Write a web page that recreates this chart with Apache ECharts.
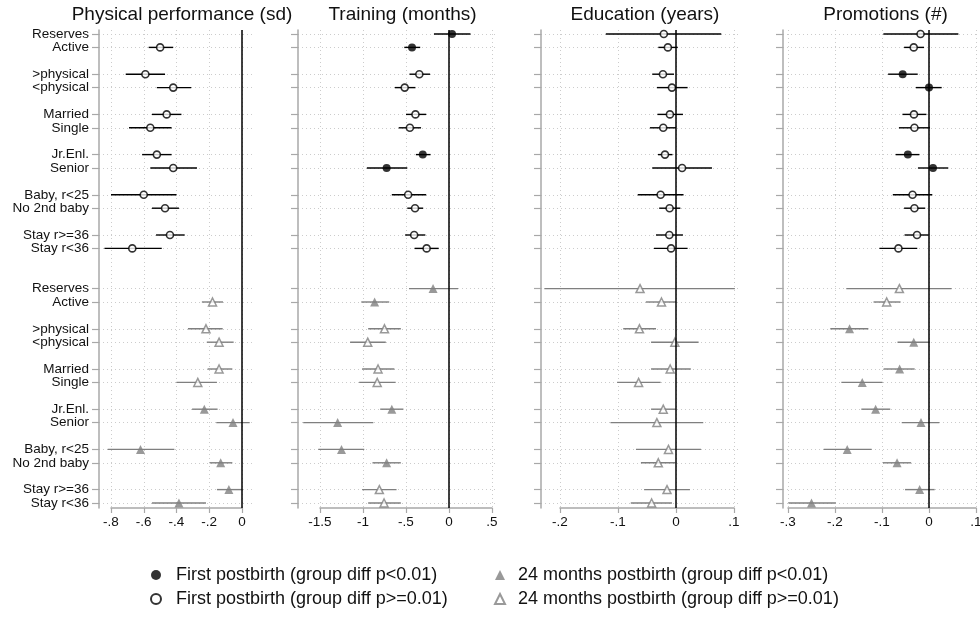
<!DOCTYPE html>
<html>
<head>
<meta charset="utf-8">
<script src="https://cdn.jsdelivr.net/npm/echarts@6/dist/echarts.min.js"></script>
<style>
html, body { margin: 0; padding: 0; background: #fff; }
#chart { width: 980px; height: 618px; }
</style>
</head>
<body>
<div id="chart"></div>
<script>
// Row labels (same six pairs in both blocks)
const rowLabels = ['Reserves', 'Active', '>physical', '<physical', 'Married', 'Single',
    'Jr.Enl.', 'Senior', 'Baby, r<25', 'No 2nd baby', 'Stay r>=36', 'Stay r<36'];

const panelTitles = ['Physical performance (sd)', 'Training (months)', 'Education (years)', 'Promotions (#)'];

const legendNames = [
    'First postbirth (group diff p<0.01)',
    'First postbirth (group diff p>=0.01)',
    '24 months postbirth (group diff p<0.01)',
    '24 months postbirth (group diff p>=0.01)'
];

// 24 rows each: first 12 = first postbirth, last 12 = 24 months postbirth
const physEst = [null, -0.50, -0.59, -0.42, -0.46, -0.56, -0.52, -0.42, -0.60, -0.47, -0.44, -0.67,
    null, -0.18, -0.22, -0.14, -0.14, -0.27, -0.23, -0.055, -0.62, -0.13, -0.08, -0.385];
const physLo = [null, -0.57, -0.71, -0.52, -0.55, -0.69, -0.61, -0.56, -0.80, -0.55, -0.525, -0.84,
    null, -0.245, -0.33, -0.215, -0.21, -0.40, -0.305, -0.157, -0.82, -0.197, -0.153, -0.55];
const physHi = [null, -0.42, -0.47, -0.31, -0.37, -0.43, -0.43, -0.275, -0.40, -0.385, -0.35, -0.49,
    null, -0.116, -0.118, -0.051, -0.059, -0.153, -0.149, 0.047, -0.413, -0.059, 0.004, -0.22];
const physSig = [0, 0, 0, 0, 0, 0, 0, 0, 0, 0, 0, 0,
    0, 0, 0, 0, 0, 0, 1, 1, 1, 1, 1, 1];
const physTicks = [-0.8, -0.6, -0.4, -0.2, 0];

const trainEst = [0.035, -0.43, -0.345, -0.515, -0.39, -0.455, -0.305, -0.725, -0.475, -0.395, -0.405, -0.26,
    -0.185, -0.865, -0.75, -0.945, -0.825, -0.835, -0.665, -1.295, -1.25, -0.725, -0.81, -0.755];
const trainLo = [-0.175, -0.52, -0.46, -0.63, -0.50, -0.585, -0.385, -0.955, -0.665, -0.485, -0.51, -0.40,
    -0.465, -1.02, -0.94, -1.15, -1.01, -1.045, -0.80, -1.695, -1.52, -0.89, -1.01, -0.94];
const trainHi = [0.25, -0.335, -0.22, -0.39, -0.265, -0.325, -0.215, -0.485, -0.265, -0.30, -0.275, -0.12,
    0.105, -0.695, -0.56, -0.735, -0.635, -0.62, -0.53, -0.88, -0.985, -0.56, -0.61, -0.56];
const trainSig = [1, 1, 0, 0, 0, 0, 1, 1, 0, 0, 0, 0,
    1, 1, 0, 0, 0, 0, 1, 1, 1, 1, 0, 0];
const trainTicks = [-1.5, -1, -0.5, 0, 0.5];

const eduEst = [-0.021, -0.014, -0.0225, -0.007, -0.0105, -0.022, -0.019, 0.0105, -0.0265, -0.011, -0.0115, -0.0085,
    -0.062, -0.025, -0.063, -0.002, -0.01, -0.0645, -0.022, -0.033, -0.013, -0.0305, -0.0155, -0.042];
const eduLo = [-0.121, -0.0305, -0.041, -0.033, -0.032, -0.045, -0.031, -0.041, -0.066, -0.029, -0.0345, -0.038,
    -0.227, -0.052, -0.091, -0.043, -0.043, -0.1015, -0.043, -0.113, -0.069, -0.0605, -0.055, -0.078];
const eduHi = [0.078, 0.003, -0.0035, 0.020, 0.012, 0, -0.006, 0.062, 0.013, 0.0075, 0.012, 0.020,
    0.1015, 0, -0.0345, 0.039, 0.0255, -0.0265, -0.0005, 0.047, 0.043, -0.001, 0.024, -0.007];
const eduSig = [0, 0, 0, 0, 0, 0, 0, 0, 0, 0, 0, 0,
    0, 0, 0, 0, 0, 0, 0, 0, 0, 0, 0, 0];
const eduTicks = [-0.2, -0.1, 0, 0.1];

const promEst = [-0.018, -0.0325, -0.056, 0, -0.032, -0.031, -0.045, 0.0085, -0.035, -0.031, -0.0255, -0.065,
    -0.063, -0.09, -0.169, -0.0325, -0.0625, -0.142, -0.1135, -0.017, -0.174, -0.068, -0.02, -0.25];
const promLo = [-0.097, -0.053, -0.087, -0.028, -0.0565, -0.064, -0.071, -0.0235, -0.077, -0.053, -0.052, -0.1055,
    -0.176, -0.118, -0.21, -0.067, -0.0965, -0.1865, -0.144, -0.058, -0.224, -0.098, -0.051, -0.299];
const promHi = [0.0625, -0.0105, -0.024, 0.027, -0.0055, 0.002, -0.0205, 0.041, 0.007, -0.008, -0.0005, -0.025,
    0.048, -0.0605, -0.129, 0.0015, -0.0305, -0.099, -0.0825, 0.022, -0.122, -0.038, 0.012, -0.1985];
const promSig = [0, 0, 1, 1, 0, 0, 1, 1, 0, 0, 0, 0,
    0, 0, 1, 1, 1, 1, 1, 1, 1, 1, 1, 1];
const promTicks = [-0.3, -0.2, -0.1, 0, 0.1];

// Styling / layout
const FONT = '"Liberation Sans", Arial, sans-serif';
const GRAY = '#7f7f7f';
const AXIS_GRAY = '#a8a8a8';
const GRID_DOT = '#cccccc';
const PLOT_TOP = 34, PLOT_BOTTOM = 503;   // first / last row
const AXIS_TOP = 30, AXIS_BOTTOM = 508;   // spine extent

// pixel columns: spine, first tick, last tick, right edge
const LAYOUT = [
    { spine: 99, x0: 111, x1: 242, right: 255 },
    { spine: 298, x0: 320, x1: 492, right: 497 },
    { spine: 541, x0: 560, x1: 734, right: 739 },
    { spine: 783, x0: 788, x1: 976, right: 978 }
];

const PANELS = [
    { est: physEst, lo: physLo, hi: physHi, sig: physSig, ticks: physTicks },
    { est: trainEst, lo: trainLo, hi: trainHi, sig: trainSig, ticks: trainTicks },
    { est: eduEst, lo: eduLo, hi: eduHi, sig: eduSig, ticks: eduTicks },
    { est: promEst, lo: promLo, hi: promHi, sig: promSig, ticks: promTicks }
];

// category rows with blank spacers between pairs and blocks
const cats = [];
const rowPos = [];
[0, 1].forEach(g => {
    rowLabels.forEach((lab, i) => {
        if (i > 0 && i % 2 === 0) cats.push('');
        rowPos.push(cats.length);
        cats.push(lab);
    });
    if (g === 0) cats.push('', '');
});

function fmtTick(v) {
    const s = String(Number(v.toFixed(3)));
    return s.replace(/^(-?)0\./, '$1.');
}

const isRow = (idx, val) => val !== '';

const grids = [], xAxes = [], yAxes = [], series = [], titles = [];

PANELS.forEach((p, k) => {
    const L = LAYOUT[k];
    const tMin = p.ticks[0], tMax = p.ticks[p.ticks.length - 1];
    const step = Number((p.ticks[1] - p.ticks[0]).toFixed(4));
    const scale = (L.x1 - L.x0) / (tMax - tMin);
    const bMin = tMin - (L.x0 - L.spine) / scale;
    const bMax = tMax + (L.right - L.x1) / scale;
    const a = 2 * k, b = 2 * k + 1;

    // grid A: tick axis, vertical gridlines, spine, zero line
    grids.push({ left: L.x0, width: L.x1 - L.x0, top: AXIS_TOP, height: AXIS_BOTTOM - AXIS_TOP, outerBoundsMode: 'none' });
    xAxes.push({
        gridIndex: a, type: 'value', min: tMin, max: tMax, interval: step,
        axisLine: { onZero: false, lineStyle: { color: AXIS_GRAY, width: 1.5 } },
        axisTick: { length: 5, lineStyle: { color: AXIS_GRAY, width: 1.2 } },
        axisLabel: { color: '#111', fontSize: 13.5, fontFamily: FONT, margin: 7, formatter: fmtTick,
            showMinLabel: true, showMaxLabel: true },
        splitLine: { show: true, lineStyle: { color: GRID_DOT, type: [1, 3], width: 1 } }
    });
    yAxes.push({
        gridIndex: a, type: 'value', min: 0, max: 1, offset: L.x0 - L.spine,
        axisLine: { show: true, onZero: false, lineStyle: { color: AXIS_GRAY, width: 1.5 } },
        axisTick: { show: false }, axisLabel: { show: false }, splitLine: { show: false }
    });

    // grid B: the rows
    grids.push({ left: L.spine, width: L.right - L.spine, top: PLOT_TOP, height: PLOT_BOTTOM - PLOT_TOP, outerBoundsMode: 'none' });
    xAxes.push({ gridIndex: b, type: 'value', min: bMin, max: bMax, show: false });
    yAxes.push({
        gridIndex: b, type: 'category', data: cats, inverse: true, boundaryGap: false,
        axisLine: { show: false, onZero: false },
        axisTick: { show: true, length: 7, interval: isRow, lineStyle: { color: AXIS_GRAY, width: 1.2 } },
        // interval 0: every category gets its label (spacers are blank), no min/max overlap pruning
        axisLabel: { show: k === 0, interval: 0, color: '#111', fontSize: 13.5,
            fontFamily: FONT, margin: 10 },
        splitLine: { show: true, interval: isRow, lineStyle: { color: GRID_DOT, type: [1, 3], width: 1 } }
    });

    titles.push({
        text: panelTitles[k], left: (L.spine + L.right) / 2, top: 0, textAlign: 'center',
        textStyle: { fontSize: 19, fontWeight: 'normal', color: '#111', fontFamily: FONT }
    });

    // zero line
    series.push({
        type: 'scatter', xAxisIndex: a, yAxisIndex: a, data: [], z: 2, silent: true,
        markLine: {
            silent: true, symbol: 'none', animation: false,
            label: { show: false },
            lineStyle: { color: '#000', width: 1.5, type: 'solid' },
            data: [{ xAxis: 0 }]
        }
    });

    // confidence intervals
    const ciData = [];
    const pts = [[], [], [], []];
    p.est.forEach((v, i) => {
        if (v === null) return;
        const g = i < 12 ? 0 : 1;
        ciData.push([p.lo[i], p.hi[i], rowPos[i], g]);
        pts[g * 2 + (p.sig[i] ? 0 : 1)].push([v, rowPos[i]]);
    });
    series.push({
        type: 'custom', xAxisIndex: b, yAxisIndex: b, z: 3, silent: true,
        encode: { x: [0, 1], y: 2 },
        data: ciData,
        renderItem: (params, api) => {
            const p1 = api.coord([api.value(0), api.value(2)]);
            const p2 = api.coord([api.value(1), api.value(2)]);
            return {
                type: 'line',
                shape: { x1: p1[0], y1: p1[1], x2: p2[0], y2: p2[1] },
                style: { stroke: api.value(3) ? GRAY : '#000', lineWidth: 1.4 }
            };
        }
    });

    const markerStyles = [
        { symbol: 'circle', symbolSize: 8, itemStyle: { color: '#000' } },
        { symbol: 'circle', symbolSize: 7, itemStyle: { color: '#fff', borderColor: '#000', borderWidth: 1.6 } },
        { symbol: 'triangle', symbolSize: 9, itemStyle: { color: GRAY } },
        { symbol: 'triangle', symbolSize: 8, itemStyle: { color: '#fff', borderColor: GRAY, borderWidth: 1.5 } }
    ];
    markerStyles.forEach((ms, j) => {
        series.push(Object.assign({
            name: legendNames[j], type: 'scatter', xAxisIndex: b, yAxisIndex: b, z: 4,
            data: pts[j], animation: false
        }, ms));
    });
});

const chart = echarts.init(document.getElementById('chart'), null, { renderer: 'canvas' });
chart.setOption({
    animation: false,
    backgroundColor: '#fff',
    title: titles,
    grid: grids,
    xAxis: xAxes,
    yAxis: yAxes,
    legend: [
        {
            data: [legendNames[0], legendNames[1]], orient: 'vertical', left: 145, top: 561,
            itemWidth: 10, itemHeight: 10, itemGap: 6, selectedMode: false,
            textStyle: { fontSize: 18, color: '#111', fontFamily: FONT, padding: [0, 0, 0, 10] }
        },
        {
            data: [legendNames[2], legendNames[3]], orient: 'vertical', left: 489, top: 561,
            itemWidth: 10, itemHeight: 10, itemGap: 6, selectedMode: false,
            textStyle: { fontSize: 18, color: '#111', fontFamily: FONT, padding: [0, 0, 0, 8] }
        }
    ],
    series: series
});
</script>
</body>
</html>
